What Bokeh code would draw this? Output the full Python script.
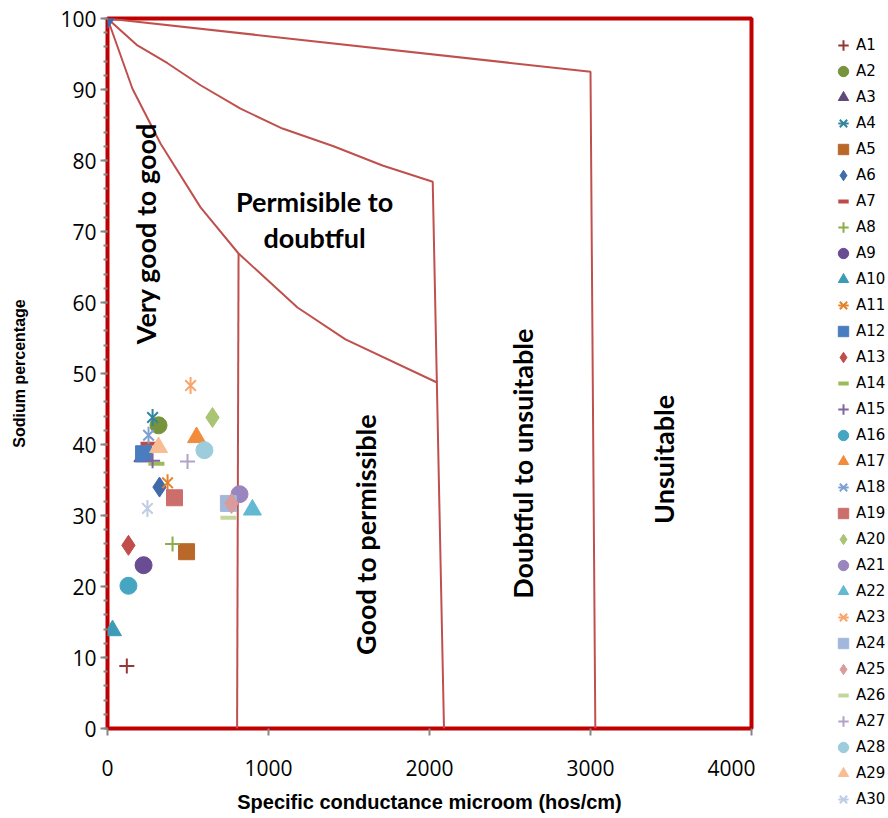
import numpy as np
from bokeh.plotting import figure
from bokeh.layouts import row
from bokeh.models import Range1d, Legend, LegendItem, FixedTicker, ColumnDataSource
from bokeh.core.properties import value
from bokeh.embed import file_html
from bokeh.resources import INLINE

# ---------------- data ----------------
samples = ["A1", "A2", "A3", "A4", "A5", "A6", "A7", "A8", "A9", "A10",
           "A11", "A12", "A13", "A14", "A15", "A16", "A17", "A18", "A19", "A20",
           "A21", "A22", "A23", "A24", "A25", "A26", "A27", "A28", "A29", "A30"]
conductance = [120, 317, 220, 280, 491, 323, 255, 404, 224, 31,
               373, 224, 130, 304, 280, 130, 553, 255, 416, 652,
               820, 900, 516, 751, 770, 751, 497, 602, 317, 248]
sodium_pct = [8.8, 42.7, 38.3, 43.8, 24.9, 34.0, 40.1, 26.0, 23.0, 13.8,
              34.6, 38.7, 25.8, 37.3, 37.7, 20.1, 41.0, 41.3, 32.5, 43.8,
              33.0, 30.8, 48.3, 31.7, 31.7, 29.7, 37.6, 39.2, 39.6, 31.0]
marker_kind = ["plus", "circle", "triangle", "star", "square", "diamond", "dash",
               "plus", "circle", "triangle", "star", "square", "diamond", "dash",
               "plus", "circle", "triangle", "star", "square", "diamond",
               "circle", "triangle", "star", "square", "diamond", "dash",
               "plus", "circle", "triangle", "star"]
colors = ["#953735", "#77933C", "#5F497A", "#31859C", "#BA672A", "#3F6BAA", "#BE4B48",
          "#8BAE4B", "#6A4C93", "#3D9BB5", "#E4832F", "#4A7DBF", "#C04D4A", "#9BBB59",
          "#8064A2", "#46A6C2", "#F08C3C", "#7E9FD2", "#CC6E6C", "#A9C574",
          "#9A85BE", "#62B9D1", "#F9A46A", "#A2B7DB", "#DA9C9B", "#C3D69B",
          "#B3A2C7", "#9DCCDD", "#F9BD93", "#BFCDE4"]

# origin marker of the boundary curves (drawn in A6 style)
origin_cond = [0]
origin_na = [100]

# Wilcox classification boundaries
b1_cond = [0, 3000, 3030]
b1_na = [100, 92.5, 0]
b2_cond = [0, 186, 373, 578, 826, 1087, 1404, 1708, 2020, 2090]
b2_na = [100, 96.2, 93.7, 90.6, 87.3, 84.5, 82.0, 79.3, 77.0, 0]
b3_cond = [0, 155, 329, 578, 814, 1180, 1478, 2050]
b3_na = [100, 90.1, 82.4, 73.4, 66.9, 59.3, 54.8, 48.7]
b4_cond = [814, 805]
b4_na = [66.9, 0]

# region labels
zone_text = ["Very good to good", "Permisible to", "doubtful", "Good to permissible",
             "Doubtful to unsuitable", "Unsuitable"]
zone_cond = [236, 1286, 1286, 1602, 2578, 3453]
zone_na = [69.7, 74.2, 69.1, 27.3, 37.3, 37.9]
zone_angle = [np.pi / 2, 0, 0, np.pi / 2, np.pi / 2, np.pi / 2]

x_ticks = [0, 1000, 2000, 3000, 4000]
y_ticks = [0, 10, 20, 30, 40, 50, 60, 70, 80, 90, 100]
y_minor = list(range(0, 101, 2))

H = 816

# ---------------- main figure ----------------
p = figure(width=755, height=H, x_range=Range1d(0, 4000), y_range=Range1d(0, 100),
           output_backend="svg", toolbar_location=None,
           min_border_left=107, min_border_right=4, min_border_top=18, min_border_bottom=88)
p.xgrid.visible = False
p.ygrid.visible = False
p.outline_line_color = "#C00000"
p.outline_line_width = 4
p.background_fill_color = "white"
p.border_fill_color = "white"

tick_font = "Open Sans"
p.xaxis.ticker = FixedTicker(ticks=x_ticks)
p.yaxis.ticker = FixedTicker(ticks=y_ticks, minor_ticks=y_minor)
for ax in (p.xaxis[0], p.yaxis[0]):
    ax.axis_line_color = None
    ax.major_tick_line_color = "#868686"
    ax.major_tick_line_width = 2
    ax.major_tick_in = 0
    ax.major_tick_out = 7
    ax.minor_tick_line_color = "#868686"
    ax.minor_tick_line_width = 2
    ax.minor_tick_in = 0
    ax.minor_tick_out = 4
    ax.major_label_text_font = tick_font
    ax.major_label_text_font_size = "21px"
    ax.major_label_text_color = "black"
    ax.axis_label_text_font = "Liberation Sans"
    ax.axis_label_text_font_style = "bold"
    ax.axis_label_text_color = "black"
p.xaxis.minor_tick_line_color = None
p.xaxis.major_label_standoff = 24
p.yaxis.major_label_standoff = 4
p.xaxis.axis_label = "Specific conductance microom (hos/cm)"
p.yaxis.axis_label = "Sodium percentage"
p.xaxis.axis_label_text_font_size = "20px"
p.yaxis.axis_label_text_font_size = "16px"
p.xaxis.axis_label_standoff = 12
p.yaxis.axis_label_standoff = 29

# boundaries
line_color = "#C0504D"
for bx, by in ((b1_cond, b1_na), (b2_cond, b2_na), (b3_cond, b3_na), (b4_cond, b4_na)):
    p.line(bx, by, line_color=line_color, line_width=2)

# zone labels
zsrc = ColumnDataSource(dict(x=zone_cond, y=zone_na, t=zone_text, a=zone_angle))
p.text(x="x", y="y", text="t", angle="a", source=zsrc, text_font=value("Lato"),
       text_font_style="bold", text_font_size="27px", text_align="center",
       text_baseline="middle", text_color="black")

# ---------------- legend figure ----------------
# its ranges lie far from the sample values, so its swatch renderers draw nothing in its frame
lg = figure(width=133, height=H, x_range=Range1d(-2, -1), y_range=Range1d(-2, -1),
            output_backend="svg", toolbar_location=None,
            x_axis_location=None, y_axis_location=None,
            min_border_left=0, min_border_right=0, min_border_top=0, min_border_bottom=0)
lg.xgrid.visible = False
lg.ygrid.visible = False
lg.outline_line_color = None
lg.background_fill_color = "white"
lg.border_fill_color = "white"

unaligned = True
try:
    lg.frame_align = False
    p.frame_align = False
except Exception:
    unaligned = False


def add_marker(fig, src, kind, c):
    rs = []
    if kind == "plus":
        rs.append(fig.scatter("x", "y", source=src, marker="cross", size=15,
                              line_color=c, line_width=2))
    elif kind == "circle":
        rs.append(fig.scatter("x", "y", source=src, marker="circle", size=17,
                              fill_color=c, line_color=c))
    elif kind == "triangle":
        rs.append(fig.scatter("x", "y", source=src, marker="triangle", size=18,
                              fill_color=c, line_color=c))
    elif kind == "square":
        rs.append(fig.scatter("x", "y", source=src, marker="square", size=16,
                              fill_color=c, line_color=c))
    elif kind == "diamond":
        rs.append(fig.scatter("x", "y", source=src, marker="diamond", size=20,
                              fill_color=c, line_color=c))
    elif kind == "dash":
        rs.append(fig.scatter("x", "y", source=src, marker="dash", size=16,
                              line_color=c, line_width=4))
    elif kind == "star":
        rs.append(fig.scatter("x", "y", source=src, marker="x", size=15,
                              line_color=c, line_width=2))
        rs.append(fig.scatter("x", "y", source=src, marker="dash", size=17, angle=np.pi / 2,
                              line_color=c, line_width=2))
    return rs


items = []
for i, name in enumerate(samples):
    xs = [conductance[i]]
    ys = [sodium_pct[i]]
    if name == "A6":
        xs = xs + origin_cond
        ys = ys + origin_na
    src = ColumnDataSource(dict(x=xs, y=ys))
    add_marker(p, src, marker_kind[i], colors[i])
    swatch = add_marker(lg, src, marker_kind[i], colors[i])
    items.append(LegendItem(label=name, renderers=swatch))

if unaligned:
    row_h, loc = 26, (75, 4)
else:
    row_h, loc = 23, (75, 10)

legend = Legend(items=items, location=loc, padding=0, margin=0, ncols=1,
                glyph_width=26, glyph_height=row_h, label_height=row_h, label_standoff=0,
                spacing=0, border_line_color=None, background_fill_alpha=0,
                label_text_font="DejaVu Sans", label_text_font_size="15px",
                label_text_color="black")
lg.add_layout(legend, "center")

layout = row(p, lg)
open("out.html", "w").write(file_html(layout, INLINE))
